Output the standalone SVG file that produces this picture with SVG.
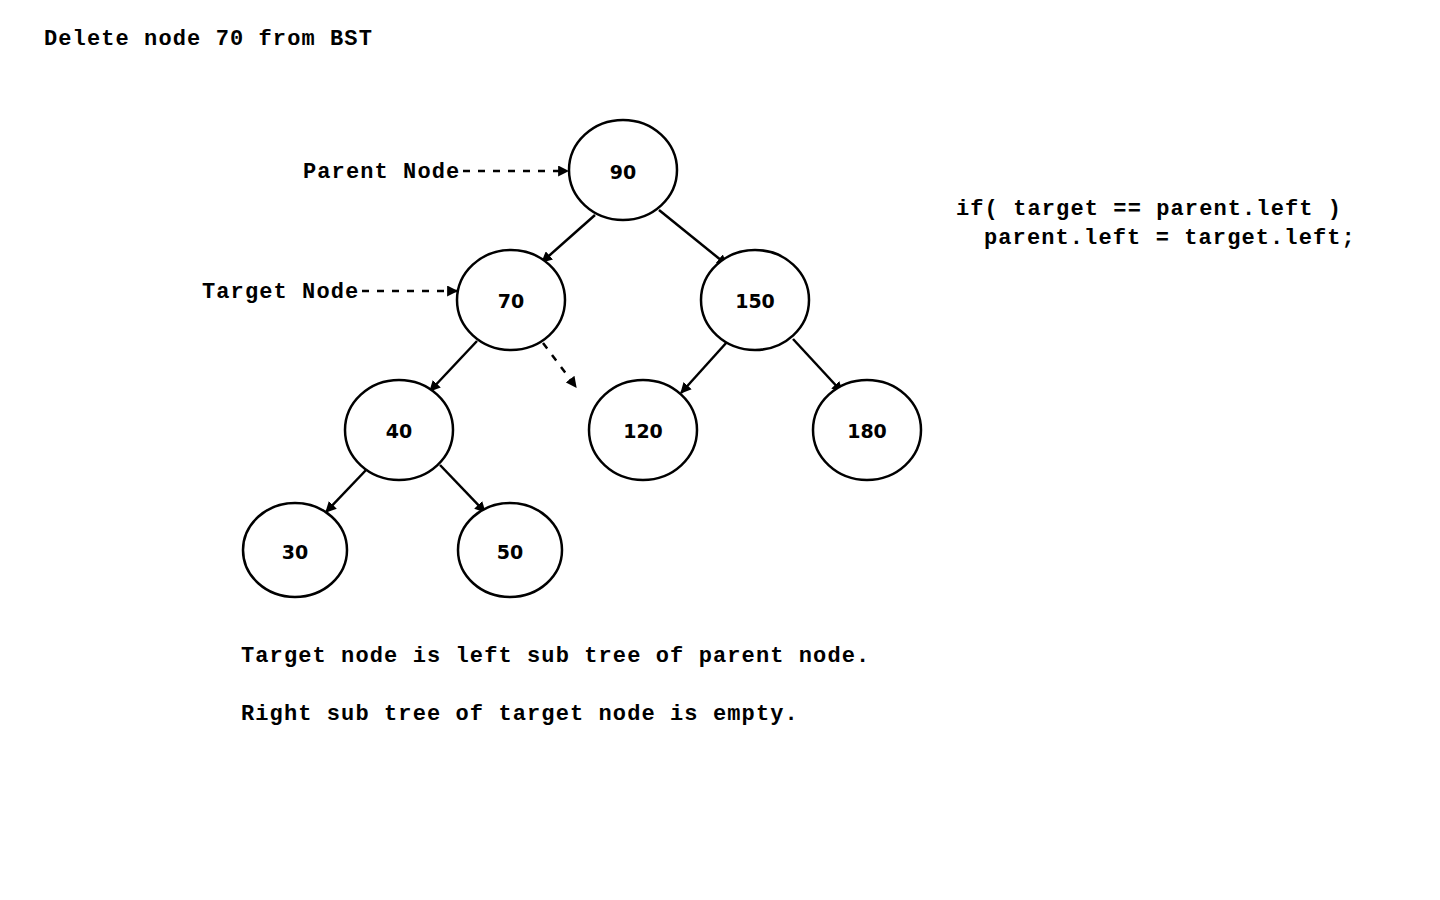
<svg xmlns="http://www.w3.org/2000/svg" width="1440" height="900" viewBox="0 0 1440 900">
<style>
.t{font-family:"Liberation Mono","Courier New",monospace;font-weight:bold;font-size:22px;letter-spacing:1.1px;fill:#000}
.n ellipse{fill:#fff;stroke:#000;stroke-width:2.5}
.n text{font-family:"DejaVu Sans",sans-serif;font-weight:bold;font-size:19px;text-anchor:middle;fill:#000}
.e line{stroke:#000;stroke-width:2.5;marker-end:url(#ah)}
.e line.d{stroke-dasharray:7 8}
</style>
<defs>
<marker id="ah" viewBox="0 0 10 10" refX="9" refY="5" markerWidth="4.4" markerHeight="4.4" orient="auto" markerUnits="strokeWidth">
<path d="M0,0 L10,5 L0,10 z" fill="#000"/>
</marker>
</defs>
<rect width="1440" height="900" fill="#fff"/>
<text class="t" x="44" y="45">Delete node 70 from BST</text>
<text class="t" x="303" y="178">Parent Node</text>
<text class="t" x="202" y="298">Target Node</text>
<text class="t" x="956" y="215">if( target == parent.left )</text>
<text class="t" x="984" y="244">parent.left = target.left;</text>
<text class="t" x="241" y="662">Target node is left sub tree of parent node.</text>
<text class="t" x="241" y="720">Right sub tree of target node is empty.</text>
<g class="e" id="connectors">
<line class="d" x1="463" y1="171" x2="568" y2="171"/>
<line class="d" x1="362" y1="291" x2="457" y2="291"/>
<line x1="595" y1="215" x2="542" y2="262"/>
<line x1="659" y1="210" x2="727" y2="265"/>
<line x1="477" y1="341" x2="430" y2="391"/>
<line class="d" x1="543" y1="343" x2="576" y2="387"/>
<line x1="727" y1="342" x2="681" y2="393"/>
<line x1="793" y1="339" x2="842" y2="392"/>
<line x1="367" y1="469" x2="326" y2="512"/>
<line x1="440" y1="465" x2="485" y2="512"/>
</g>
<g class="n" id="n90"><ellipse cx="623" cy="170" rx="54" ry="50"/><text x="623" y="179">90</text></g>
<g class="n" id="n70"><ellipse cx="511" cy="300" rx="54" ry="50"/><text x="511" y="308">70</text></g>
<g class="n" id="n150"><ellipse cx="755" cy="300" rx="54" ry="50"/><text x="755" y="308">150</text></g>
<g class="n" id="n40"><ellipse cx="399" cy="430" rx="54" ry="50"/><text x="399" y="438">40</text></g>
<g class="n" id="n120"><ellipse cx="643" cy="430" rx="54" ry="50"/><text x="643" y="438">120</text></g>
<g class="n" id="n180"><ellipse cx="867" cy="430" rx="54" ry="50"/><text x="867" y="438">180</text></g>
<g class="n" id="n30"><ellipse cx="295" cy="550" rx="52" ry="47"/><text x="295" y="559">30</text></g>
<g class="n" id="n50"><ellipse cx="510" cy="550" rx="52" ry="47"/><text x="510" y="559">50</text></g>
</svg>
